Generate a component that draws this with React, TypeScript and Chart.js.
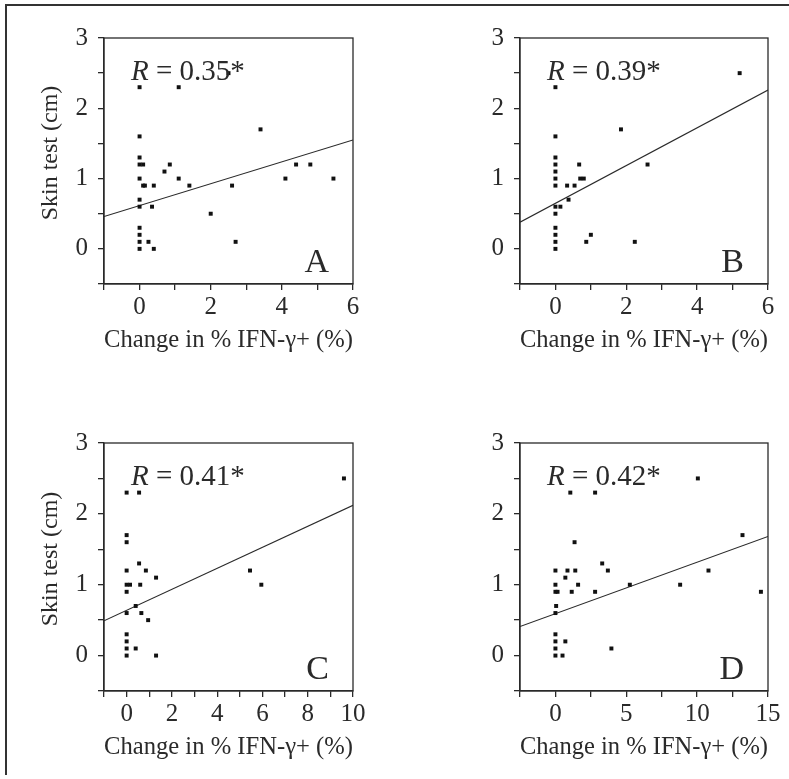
import { useEffect, useRef } from 'react';
import { Chart, registerables } from 'chart.js';

Chart.register(...registerables);

// ---------- data ----------
const panelLetters = ['A', 'B', 'C', 'D'];
const rValues = ['0.35*', '0.39*', '0.41*', '0.42*'];
const xTitle = 'Change in % IFN-\u03b3+ (%)';
const yTitle = 'Skin test (cm)';

const yTickLabels = [0, 1, 2, 3];

const aX = [0, 1.1, 2.5, 0, 3.4, 0, 0, 0.1, 0.85, 0.7, 0, 1.1, 0.1, 0.15, 0.4, 1.4, 2.6, 4.1, 4.4, 4.8, 5.45, 0, 0, 0.35, 2, 0, 0, 0, 0.25, 2.7, 0, 0.4];
const aY = [2.3, 2.3, 2.5, 1.6, 1.7, 1.3, 1.2, 1.2, 1.2, 1.1, 1.0, 1.0, 0.9, 0.9, 0.9, 0.9, 0.9, 1.0, 1.2, 1.2, 1.0, 0.7, 0.6, 0.6, 0.5, 0.3, 0.2, 0.1, 0.1, 0.1, 0, 0];
const aLineX = [-1, 6];
const aLineY = [0.46, 1.55];
const aXTicks = [0, 2, 4, 6];

const bX = [0, 5.2, 0, 1.85, 0, 0, 0, 0, 0, 0.67, 0.7, 0.8, 0.33, 0.54, 0.37, 2.6, 0, 0.14, 0, 0, 0, 0, 0, 0.87, 1.0, 2.24];
const bY = [2.3, 2.5, 1.6, 1.7, 1.3, 1.2, 1.1, 1.0, 0.9, 1.2, 1.0, 1.0, 0.9, 0.9, 0.7, 1.2, 0.6, 0.6, 0.5, 0.3, 0.2, 0.1, 0, 0.1, 0.2, 0.1];
const bLineX = [-1, 6];
const bLineY = [0.38, 2.26];
const bXTicks = [0, 2, 4, 6];

const cX = [0, 0.55, 9.6, 0, 0, 0.55, 0, 0.85, 1.3, 0, 0.15, 0.6, 0, 5.45, 5.95, 0.4, 0, 0.65, 0.95, 0, 0, 0, 0.4, 0, 1.3];
const cY = [2.3, 2.3, 2.5, 1.7, 1.6, 1.3, 1.2, 1.2, 1.1, 1.0, 1.0, 1.0, 0.9, 1.2, 1.0, 0.7, 0.6, 0.6, 0.5, 0.3, 0.2, 0.1, 0.1, 0, 0];
const cLineX = [-1, 10];
const cLineY = [0.49, 2.12];
const cXTicks = [0, 2, 4, 6, 8, 10];

const dX = [1.05, 2.8, 10.05, 1.35, 13.2, 3.3, 0, 0.85, 1.4, 3.7, 10.8, 0.7, 0, 1.6, 5.25, 8.8, 0, 0.15, 1.15, 2.8, 0.05, 0, 0, 0, 0.7, 0, 3.95, 0, 0.5, 14.5];
const dY = [2.3, 2.3, 2.5, 1.6, 1.7, 1.3, 1.2, 1.2, 1.2, 1.2, 1.2, 1.1, 1.0, 1.0, 1.0, 1.0, 0.9, 0.9, 0.9, 0.9, 0.7, 0.6, 0.3, 0.2, 0.2, 0.1, 0.1, 0, 0, 0.9];
const dLineX = [-2.5, 15];
const dLineY = [0.41, 1.68];
const dXTicks = [0, 5, 10, 15];

// ---------- layout (page pixels) ----------
const FONT = '"Liberation Serif", "Times New Roman", serif';
const INK = '#2a2a2a';

type Geo = { left: number; top: number; width: number; height: number; area: { l: number; t: number; r: number; b: number } };

const geos: Geo[] = [
  { left: 0, top: 0, width: 380, height: 372, area: { l: 104, t: 38, r: 353, b: 284 } },
  { left: 416, top: 0, width: 372, height: 372, area: { l: 520, t: 38, r: 768, b: 284 } },
  { left: 0, top: 405, width: 380, height: 374, area: { l: 104, t: 443, r: 353, b: 691 } },
  { left: 416, top: 405, width: 372, height: 374, area: { l: 520, t: 443, r: 768, b: 691 } },
];

type PanelData = {
  xs: number[]; ys: number[]; lx: number[]; ly: number[];
  xMin: number; xMax: number; xStep: number; xTicks: number[];
};

const panels: PanelData[] = [
  { xs: aX, ys: aY, lx: aLineX, ly: aLineY, xMin: -1, xMax: 6, xStep: 1, xTicks: aXTicks },
  { xs: bX, ys: bY, lx: bLineX, ly: bLineY, xMin: -1, xMax: 6, xStep: 1, xTicks: bXTicks },
  { xs: cX, ys: cY, lx: cLineX, ly: cLineY, xMin: -1, xMax: 10, xStep: 1, xTicks: cXTicks },
  { xs: dX, ys: dY, lx: dLineX, ly: dLineY, xMin: -2.5, xMax: 15, xStep: 2.5, xTicks: dXTicks },
];

function Panel({ idx }: { idx: number }) {
  const ref = useRef<HTMLCanvasElement | null>(null);
  const g = geos[idx];
  const p = panels[idx];

  useEffect(() => {
    if (!ref.current) return;
    const yAxisW = g.area.l - g.left;
    const xAxisH = g.top + g.height - g.area.b;

    const framePlugin = {
      id: 'frameAndText' + idx,
      afterDraw(chart: any) {
        const { ctx, chartArea } = chart;
        ctx.save();
        ctx.strokeStyle = INK;
        ctx.lineWidth = 1.3;
        ctx.strokeRect(chartArea.left, chartArea.top, chartArea.right - chartArea.left, chartArea.bottom - chartArea.top);
        ctx.fillStyle = INK;
        // y-axis title (slightly above the centre, as in the original)
        ctx.save();
        ctx.translate(51 - g.left, (chartArea.top + chartArea.bottom) / 2 - 8);
        ctx.rotate(-Math.PI / 2);
        ctx.textAlign = 'center';
        ctx.textBaseline = 'middle';
        ctx.font = '24px ' + FONT;
        ctx.fillText(yTitle, 0, 0);
        ctx.restore();
        // R annotation
        ctx.textBaseline = 'alphabetic';
        ctx.textAlign = 'left';
        const rx = chartArea.left + 27;
        const ry = chartArea.top + 42;
        ctx.font = 'italic 29px ' + FONT;
        ctx.fillText('R', rx, ry);
        const w = ctx.measureText('R').width;
        ctx.font = '29px ' + FONT;
        ctx.fillText(' = ' + rValues[idx], rx + w, ry);
        // panel letter
        ctx.font = '34px ' + FONT;
        ctx.textAlign = 'right';
        ctx.fillText(panelLetters[idx], chartArea.right - 24, chartArea.bottom - 12);
        ctx.restore();
      },
    };

    const chart = new Chart(ref.current, {
      type: 'scatter',
      data: {
        datasets: [
          {
            data: p.xs.map((x, i) => ({ x, y: p.ys[i] })),
            pointStyle: 'rect',
            pointRadius: 2.8,
            pointBorderWidth: 0,
            backgroundColor: '#111',
            borderColor: '#111',
          },
          {
            data: p.lx.map((x, i) => ({ x, y: p.ly[i] })),
            showLine: true,
            borderColor: INK,
            borderWidth: 1.1,
            pointRadius: 0,
          },
        ],
      },
      options: {
        responsive: false,
        animation: false,
        devicePixelRatio: 1,
        layout: {
          padding: { left: 0, top: g.area.t - g.top, right: g.left + g.width - g.area.r, bottom: 0 },
        },
        plugins: { legend: { display: false }, tooltip: { enabled: false } },
        scales: {
          x: {
            type: 'linear',
            min: p.xMin,
            max: p.xMax,
            afterFit: (s: any) => { s.height = xAxisH; },
            border: { display: true, color: INK, width: 1.3 },
            grid: { drawOnChartArea: false, drawTicks: true, tickLength: 6, color: INK, lineWidth: 1.3 },
            ticks: {
              stepSize: p.xStep,
              padding: 2,
              color: INK,
              font: { family: FONT, size: 25 },
              maxRotation: 0,
              autoSkip: false,
              callback: (v: any) => (p.xTicks.includes(Number(v)) ? String(v) : ''),
            },
            title: {
              display: true,
              text: xTitle,
              color: INK,
              font: { family: FONT, size: 25 },
              padding: { top: 0, bottom: xAxisH - 15 - 56 },
            },
          },
          y: {
            type: 'linear',
            min: -0.5,
            max: 3,
            afterFit: (s: any) => { s.width = yAxisW; },
            border: { display: true, color: INK, width: 1.3 },
            grid: { drawOnChartArea: false, drawTicks: true, tickLength: 6, color: INK, lineWidth: 1.3 },
            ticks: {
              stepSize: 0.5,
              padding: 10,
              color: INK,
              font: { family: FONT, size: 25 },
              autoSkip: false,
              callback: (v: any) => (yTickLabels.includes(Number(v)) ? String(v) : ''),
            },
            title: { display: false },
          },
        },
      },
      plugins: [framePlugin],
    } as any);
    return () => chart.destroy();
  }, [idx]);

  return (
    <canvas
      ref={ref}
      width={g.width}
      height={g.height}
      style={{ position: 'absolute', left: g.left, top: g.top, width: g.width, height: g.height }}
    />
  );
}

export default function App() {
  return (
    <div style={{ position: 'fixed', left: 0, top: 0, width: 789, height: 779, background: '#fff', overflow: 'hidden' }}>
      <div
        style={{
          position: 'absolute', left: 5, top: 4, width: 800, height: 771,
          borderLeft: '2px solid #333', borderTop: '2px solid #333', boxSizing: 'border-box',
        }}
      />
      {[0, 1, 2, 3].map((i) => (
        <Panel key={i} idx={i} />
      ))}
    </div>
  );
}
